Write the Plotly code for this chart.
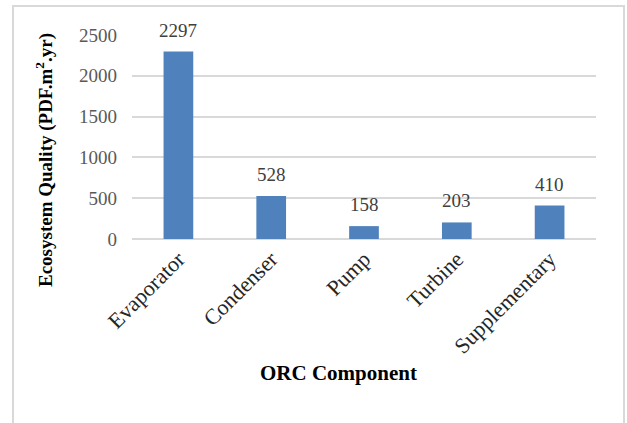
import plotly.graph_objects as go

# ORC component contributions to ecosystem quality damage
components = ["Evaporator", "Condenser", "Pump", "Turbine", "Supplementary"]
ecosystem_quality = [2297, 528, 158, 203, 410]
y_ticks = [0, 500, 1000, 1500, 2000, 2500]

FONT = "Liberation Serif, Times New Roman, serif"
BAR_COLOR = "#4F81BD"
GRID = "#D9D9D9"

# plot-area geometry in pixels
W, H = 627, 423
L, R, T, B = 132, 31, 35, 184
pw, ph = W - L - R, H - T - B


def px_x(x):
    return (x - L) / pw


def px_y(y):
    return (H - B - y) / ph


fig = go.Figure(
    go.Bar(
        x=components,
        y=ecosystem_quality,
        marker=dict(color=BAR_COLOR, line=dict(width=0)),
        width=0.32,
        hoverinfo="x+y",
    )
)

# value labels above each bar
for c, v in zip(components, ecosystem_quality):
    fig.add_annotation(
        x=c, y=v, text=str(v), showarrow=False,
        yanchor="bottom", yshift=9,
        font=dict(family=FONT, size=19, color="#404040"),
    )

# axis titles
fig.add_annotation(
    x=px_x(44), y=px_y(160), xref="paper", yref="paper",
    text="<b>Ecosystem Quality (PDF.m<sup>2</sup>.yr)</b>",
    textangle=-90, showarrow=False, xanchor="center", yanchor="middle",
    font=dict(family=FONT, size=19, color="#000000"),
)
fig.add_annotation(
    x=px_x(338.5), y=px_y(373), xref="paper", yref="paper",
    text="<b>ORC Component</b>", showarrow=False,
    xanchor="center", yanchor="middle",
    font=dict(family=FONT, size=21, color="#000000"),
)

# chart-area border
fig.add_shape(
    type="rect", xref="paper", yref="paper",
    x0=px_x(13), x1=px_x(624), y0=px_y(6), y1=px_y(440),
    line=dict(color=GRID, width=2), fillcolor="rgba(0,0,0,0)", layer="below",
)

fig.update_layout(
    width=W, height=H,
    margin=dict(l=L, r=R, t=T, b=B, pad=0),
    paper_bgcolor="white", plot_bgcolor="white",
    showlegend=False,
    bargap=0.68,
    font=dict(family=FONT),
)
fig.update_xaxes(
    showgrid=False, showline=False, zeroline=False,
    tickangle=-45, ticks="", ticklabelstandoff=2,
    tickfont=dict(family=FONT, size=22, color="#262626"),
)
fig.update_yaxes(
    range=[0, 2500], tickvals=y_ticks,
    showgrid=True, gridcolor=GRID, gridwidth=1.5,
    zeroline=True, zerolinecolor=GRID, zerolinewidth=1.5,
    showline=False, ticks="", ticklabelstandoff=14,
    tickfont=dict(family=FONT, size=19, color="#595959"),
)

fig.write_html("out.html")
